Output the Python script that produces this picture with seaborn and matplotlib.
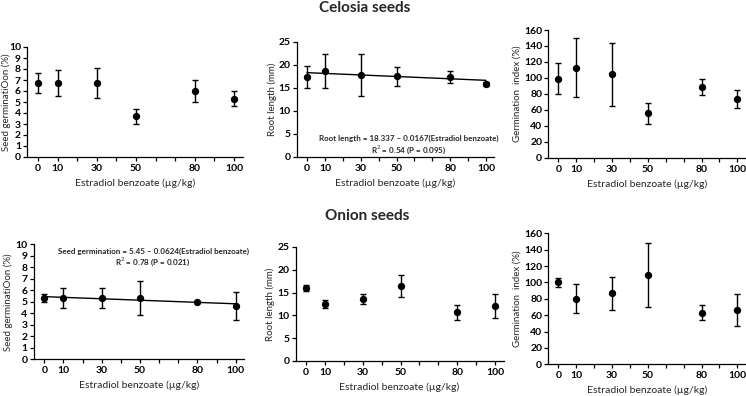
import matplotlib
matplotlib.use("Agg")
import matplotlib.pyplot as plt
import seaborn as sns
import pandas as pd

# ---- data ----
doses = [0, 10, 30, 50, 80, 100]

celosia_germ = [6.7, 6.7, 6.7, 3.7, 6.0, 5.3]
celosia_germ_err = [0.9, 1.2, 1.35, 0.68, 1.0, 0.67]
celosia_root = [17.4, 18.7, 17.8, 17.5, 17.4, 15.9]
celosia_root_err = [2.4, 3.7, 4.5, 2.05, 1.3, 0.4]
celosia_gi = [99.0, 113.0, 104.5, 55.6, 88.1, 73.8]
celosia_gi_err = [19.5, 37.0, 39.3, 13.2, 10.1, 11.2]

onion_germ = [5.33, 5.33, 5.32, 5.3, 5.0, 4.67]
onion_germ_err = [0.33, 0.9, 0.9, 1.47, 0.08, 1.22]
onion_root = [16.0, 12.5, 13.6, 16.4, 10.7, 12.1]
onion_root_err = [0.6, 0.9, 1.0, 2.4, 1.65, 2.7]
onion_gi = [100.0, 80.2, 86.8, 109.0, 63.2, 66.6]
onion_gi_err = [5.5, 18.1, 20.0, 39.0, 9.6, 19.5]

# fitted lines (intercept, slope)
celosia_root_fit = (18.337, -0.0167)
onion_germ_fit = (5.45, -0.00624)

ylabels = ["Seed germinatiOon (%)", "Root length (mm)", "Germination  index (%)"]
xlabel = "Estradiol benzoate (\u00b5g/kg)"

sns.set_style("ticks")
plt.rcParams["font.family"] = ["Lato", "DejaVu Sans"]

W, H = 746, 396
fig = plt.figure(figsize=(W / 100, H / 100), dpi=100)

def add_axes(left, right, top, bottom):
    return fig.add_axes([left / W, 1 - bottom / H, (right - left) / W, (bottom - top) / H])

XMIN, XMAX = -5.5, 104.5
# pixel geometry: (x of 0, px per unit, top, bottom)
geo = {
    (0, 0): (38.0, 1.96, 47, 157),
    (0, 1): (307.0, 1.79, 42, 157),
    (0, 2): (558.3, 1.79, 30, 157.7),
    (1, 0): (44.3, 1.914, 244.3, 359.3),
    (1, 1): (306.0, 1.89, 247, 361),
    (1, 2): (558.3, 1.79, 233.3, 364.3),
}
# horizontal pixel position (right edge) of the left-column y-axis titles
ylabel_x = {(0, 0): 11.5, (1, 0): 13.5}

panels = {
    (0, 0): (celosia_germ, celosia_germ_err, (0, 10), range(0, 11, 1)),
    (0, 1): (celosia_root, celosia_root_err, (0, 25), range(0, 26, 5)),
    (0, 2): (celosia_gi, celosia_gi_err, (0, 160), range(0, 161, 20)),
    (1, 0): (onion_germ, onion_germ_err, (0, 10), range(0, 11, 1)),
    (1, 1): (onion_root, onion_root_err, (0, 25), range(0, 26, 5)),
    (1, 2): (onion_gi, onion_gi_err, (0, 160), range(0, 161, 20)),
}

axes = {}
for key, (x0, sc, top, bottom) in geo.items():
    left = x0 + XMIN * sc
    right = x0 + XMAX * sc
    ax = add_axes(left, right, top, bottom)
    axes[key] = ax
    vals, errs, ylim, yt = panels[key]
    df = pd.DataFrame({"dose": doses, "val": vals, "err": errs})
    ax.errorbar(df["dose"], df["val"], yerr=df["err"], fmt="none", ecolor="black",
                elinewidth=1.0, capsize=2.5, capthick=1.0, zorder=2)
    sns.scatterplot(data=df, x="dose", y="val", ax=ax, color="black", s=28,
                    edgecolor="black", linewidth=0, zorder=3, legend=False)
    ax.set_xlim(XMIN, XMAX)
    ax.set_ylim(*ylim)
    ax.set_yticks(list(yt))
    ax.set_xticks(list(range(0, 101, 10)))
    ax.set_xticklabels([str(t) if t in doses else "" for t in range(0, 101, 10)])
    sns.despine(ax=ax)
    for s in ["left", "bottom"]:
        ax.spines[s].set_linewidth(0.9)
        ax.spines[s].set_color("black")
    ax.tick_params(axis="both", length=3, width=0.9, colors="black", labelsize=7.5, pad=2)
    ax.tick_params(axis="y", pad=1.5)
    for lab in ax.get_xticklabels() + ax.get_yticklabels():
        lab.set_fontweight("bold")
    ax.set_xlabel(xlabel, fontsize=7.5, labelpad=4)
    ax.set_ylabel(ylabels[key[1]], fontsize=7, labelpad=1.5)
    if key in ylabel_x:
        ax.yaxis.set_label_coords((ylabel_x[key] - left) / (right - left), 0.5)

# regression lines
for key, (b0, b1) in [((0, 1), celosia_root_fit), ((1, 0), onion_germ_fit)]:
    ax = axes[key]
    fx = [doses[0], doses[-1]]
    fy = [b0 + b1 * x for x in fx]
    sns.lineplot(x=fx, y=fy, ax=ax, color="black", linewidth=1.0, zorder=1)

def fig_text(x, y, s, **kw):
    fig.text(x / W, 1 - y / H, s, ha="center", va="center", **kw)

fig_text(409, 138, "Root length = 18.337 \u2013 0.0167(Estradiol benzoate)", fontsize=5.8, fontweight="bold")
fig_text(409, 150, "R$^2$ = 0.54 (P = 0.095)", fontsize=5.8, fontweight="bold")
fig_text(153, 251, "Seed germination = 5.45 \u2013 0.0624(Estradiol benzoate)", fontsize=5.8, fontweight="bold")
fig_text(153, 262, "R$^2$ = 0.78 (P = 0.021)", fontsize=5.8, fontweight="bold")

fig_text(365, 8, "Celosia seeds", fontsize=11, fontweight="bold")
fig_text(367, 216, "Onion seeds", fontsize=11, fontweight="bold")

fig.savefig("out.png", dpi=100)
